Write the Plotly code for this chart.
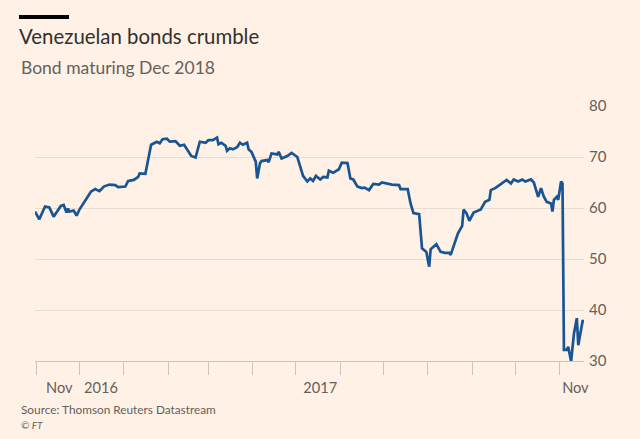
import plotly.graph_objects as go

# ---- data ----
dates = [
    "2016-10-31", "2016-11-03", "2016-11-07", "2016-11-10", "2016-11-13", "2016-11-18",
    "2016-11-20", "2016-11-22", "2016-11-23", "2016-11-24", "2016-11-27", "2016-11-29",
    "2016-12-01", "2016-12-06", "2016-12-09", "2016-12-12", "2016-12-15", "2016-12-18",
    "2016-12-22", "2016-12-26", "2016-12-28",
    "2017-01-02", "2017-01-04", "2017-01-08", "2017-01-11", "2017-01-12", "2017-01-16",
    "2017-01-20", "2017-01-23", "2017-01-24", "2017-01-26", "2017-01-28", "2017-01-31",
    "2017-02-02", "2017-02-06", "2017-02-09", "2017-02-12", "2017-02-15", "2017-02-17",
    "2017-02-20", "2017-02-23", "2017-02-27",
    "2017-03-01", "2017-03-04", "2017-03-07", "2017-03-08", "2017-03-10", "2017-03-13",
    "2017-03-14", "2017-03-16", "2017-03-18", "2017-03-21", "2017-03-23", "2017-03-25",
    "2017-03-28", "2017-03-29", "2017-03-31",
    "2017-04-03", "2017-04-04", "2017-04-06", "2017-04-07", "2017-04-11", "2017-04-12",
    "2017-04-14", "2017-04-18", "2017-04-19", "2017-04-21", "2017-04-25", "2017-04-28",
    "2017-05-02", "2017-05-04", "2017-05-06", "2017-05-09", "2017-05-11", "2017-05-13",
    "2017-05-15", "2017-05-18", "2017-05-20", "2017-05-23", "2017-05-24", "2017-05-27",
    "2017-05-31",
    "2017-06-02", "2017-06-06", "2017-06-08", "2017-06-10", "2017-06-13", "2017-06-16",
    "2017-06-18", "2017-06-21", "2017-06-24", "2017-06-28", "2017-06-30",
    "2017-07-03", "2017-07-07", "2017-07-12", "2017-07-13", "2017-07-18", "2017-07-20",
    "2017-07-22", "2017-07-26", "2017-07-28", "2017-07-31",
    "2017-08-02", "2017-08-03", "2017-08-07", "2017-08-10", "2017-08-13", "2017-08-16",
    "2017-08-17", "2017-08-19", "2017-08-22", "2017-08-25", "2017-08-26", "2017-08-28",
    "2017-08-30",
    "2017-09-02", "2017-09-07", "2017-09-10", "2017-09-13", "2017-09-14", "2017-09-17",
    "2017-09-20", "2017-09-23", "2017-09-25", "2017-09-28", "2017-09-30",
    "2017-10-03", "2017-10-06", "2017-10-08", "2017-10-12", "2017-10-14", "2017-10-16",
    "2017-10-17", "2017-10-19", "2017-10-21", "2017-10-23", "2017-10-26", "2017-10-27",
    "2017-10-28", "2017-10-30", "2017-10-31",
    "2017-11-02", "2017-11-03", "2017-11-04", "2017-11-06", "2017-11-07", "2017-11-09",
    "2017-11-11", "2017-11-13", "2017-11-14", "2017-11-16", "2017-11-17", "2017-11-18",
]

prices = [
    59.3, 57.8, 60.3, 60.1, 58.3, 60.4, 60.6, 59.1, 59.9, 59.3, 59.5, 58.5,
    59.7, 61.9, 63.2, 63.7, 63.3, 64.2, 64.6, 64.5, 64.1,
    64.2, 65.3, 65.5, 66.1, 66.8, 66.7, 72.4, 72.8, 73.0, 72.7, 73.5, 73.6,
    73.0, 73.1, 72.2, 72.4, 71.0, 70.2, 69.9, 73.0, 72.8,
    73.3, 73.3, 73.8, 72.5, 72.8, 72.2, 71.2, 71.7, 71.5, 71.9, 72.8, 72.4,
    72.8, 71.5, 71.0,
    69.1, 65.8, 68.8, 69.2, 69.4, 69.0, 70.7, 70.5, 71.0, 69.7, 70.2, 70.8,
    70.0, 68.1, 66.3, 65.2, 65.8, 65.3, 66.3, 65.6, 66.1, 66.0, 67.3, 66.9, 67.6,
    68.9, 68.8, 65.8, 65.6, 64.2, 63.9, 64.0, 63.5, 64.7, 64.6, 65.0,
    64.8, 64.6, 64.5, 63.7, 63.7, 60.9, 59.0, 58.8, 52.1, 51.4,
    48.5, 51.9, 52.9, 51.4, 51.2, 51.2, 50.8, 52.4, 55.0, 56.5, 59.7, 59.0, 57.5,
    59.1, 59.7, 61.2, 61.6, 63.5, 63.9, 64.5, 65.0, 65.5, 64.8, 65.6,
    65.2, 65.6, 65.2, 65.6, 65.0, 63.2, 62.2, 63.9, 62.2, 61.2, 60.9, 59.3,
    61.6, 62.2, 61.6,
    65.2, 64.8, 32.2, 32.2, 32.8, 29.9, 35.4, 38.4, 33.1, 36.4, 37.8, 37.8,
]

month_ticks = [
    "2016-11-01", "2016-12-01", "2017-01-01", "2017-02-01", "2017-03-01",
    "2017-04-01", "2017-05-01", "2017-06-01", "2017-07-01", "2017-08-01",
    "2017-09-01", "2017-10-01", "2017-11-01",
]
x_label_dates = ["2016-11-17", "2016-12-16", "2017-05-18", "2017-11-12"]
x_label_texts = ["Nov", "2016", "2017", "Nov"]
y_ticks = [30, 40, 50, 60, 70, 80]

BG = "#fff1e5"
GREY = "#66605c"
FONT = "Lato, sans-serif"

fig = go.Figure(
    go.Scatter(
        x=dates, y=prices, mode="lines",
        line=dict(color="#1a5593", width=2.7),
        hoverinfo="skip",
    )
)

W, H = 640, 439
L, R, T, B = 35, 56, 106, 78
pw, ph = W - L - R, H - T - B


def px(xp):
    return (xp - L) / pw


def py(yp):
    return (H - B - yp) / ph


fig.update_layout(
    width=W, height=H,
    paper_bgcolor=BG, plot_bgcolor=BG,
    margin=dict(l=L, r=R, t=T, b=B, pad=0),
    showlegend=False,
    hovermode=False,
    font=dict(family=FONT, color=GREY),
    title=dict(
        text="Venezuelan bonds crumble",
        font=dict(family=FONT, size=20.4, color="#33302e"),
        x=19 / W, xref="container", xanchor="left",
        y=1 - 36.5 / H, yref="container", yanchor="middle",
    ),
    xaxis=dict(
        type="date",
        range=["2016-10-31", "2017-11-18"],
        tickmode="array", tickvals=x_label_dates, ticktext=x_label_texts,
        ticks="outside", ticklen=13, tickcolor="rgba(0,0,0,0)",
        tickfont=dict(size=14.6, color=GREY),
        showgrid=False, zeroline=False,
        showline=True, linecolor="#cfc4ba", linewidth=1,
        minor=dict(
            tickmode="array", tickvals=month_ticks,
            ticks="outside", ticklen=13, tickwidth=1, tickcolor="#cfc4ba",
            showgrid=False,
        ),
        fixedrange=True,
    ),
    yaxis=dict(
        side="right",
        range=[30, 80],
        tickmode="array", tickvals=y_ticks,
        ticks="", showline=False, zeroline=False,
        showgrid=True, gridcolor="#e9dcd0", gridwidth=1,
        tickfont=dict(size=15, color=GREY),
        ticklabelstandoff=4,
        fixedrange=True,
    ),
    shapes=[
        dict(type="rect", xref="paper", yref="paper",
             x0=px(19), x1=px(69), y0=py(19), y1=py(15),
             fillcolor="#000000", line=dict(width=0)),
    ],
    annotations=[
        dict(text="Bond maturing Dec 2018", xref="paper", yref="paper",
             x=px(19), y=py(67), xanchor="left", yanchor="middle",
             showarrow=False, font=dict(family=FONT, size=17.5, color=GREY)),
        dict(text="Source: Thomson Reuters Datastream", xref="paper", yref="paper",
             x=px(19), y=py(409), xanchor="left", yanchor="middle",
             showarrow=False, font=dict(family=FONT, size=11.8, color=GREY)),
        dict(text="<i>© FT</i>", xref="paper", yref="paper",
             x=px(19), y=py(425), xanchor="left", yanchor="middle",
             showarrow=False, font=dict(family=FONT, size=10, color=GREY)),
    ],
)

fig.write_html(
    "out.html",
    config={"displayModeBar": False, "staticPlot": True},
    post_script="document.body.style.margin='0';document.body.style.background='%s';" % BG,
)
